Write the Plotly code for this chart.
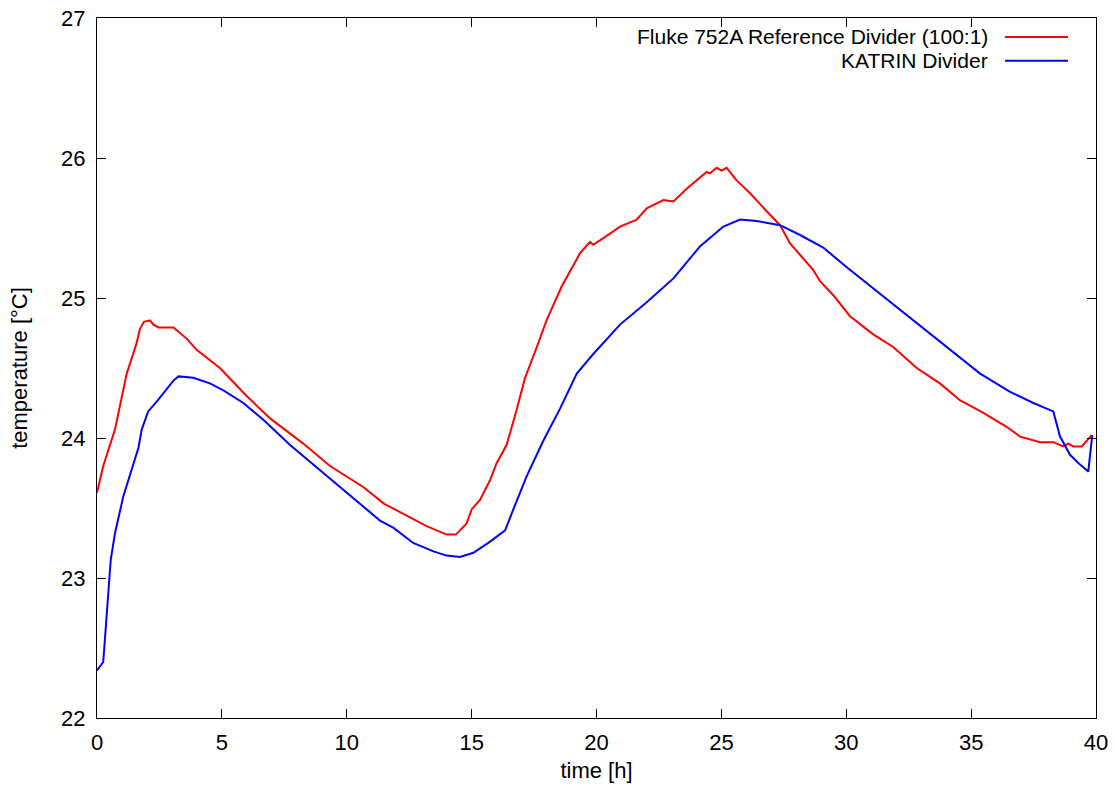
import plotly.graph_objects as go

# time [h] / temperature [°C]
fluke_time = [0, 0.25, 0.72, 1.19, 1.39, 1.59, 1.72, 1.88, 2.12, 2.26, 2.46, 3.06, 3.59, 3.99,
              4.92, 5.99, 6.93, 8.26, 9.33, 10.66, 11.5, 12.53, 13.20, 14.0, 14.37, 14.80, 15.0,
              15.34, 15.74, 16.0, 16.40, 16.80, 17.14, 17.61, 18.0, 18.6, 19.34, 19.74, 19.87,
              20.54, 20.94, 21.61, 22.01, 22.68, 23.08, 23.61, 24.28, 24.41, 24.54, 24.81, 25.01,
              25.21, 25.61, 26.14, 26.81, 27.35, 27.75, 28.15, 28.68, 28.95, 29.48, 30.15, 31.08,
              31.88, 32.82, 33.75, 34.55, 35.49, 36.42, 36.96, 37.76, 38.29, 38.69, 38.89, 39.09,
              39.43, 39.83]
fluke_temp = [23.61, 23.80, 24.06, 24.46, 24.57, 24.68, 24.78, 24.83, 24.84, 24.81, 24.79, 24.79,
              24.71, 24.63, 24.50, 24.30, 24.14, 23.96, 23.80, 23.65, 23.53, 23.43, 23.37, 23.31,
              23.31, 23.39, 23.49, 23.56, 23.70, 23.82, 23.95, 24.20, 24.43, 24.65, 24.84, 25.08,
              25.32, 25.40, 25.38, 25.46, 25.51, 25.56, 25.64, 25.70, 25.69, 25.78, 25.88, 25.90,
              25.89, 25.93, 25.91, 25.93, 25.84, 25.75, 25.62, 25.52, 25.39, 25.31, 25.20, 25.12,
              25.02, 24.87, 24.74, 24.65, 24.50, 24.39, 24.27, 24.18, 24.08, 24.01, 23.97, 23.97,
              23.94, 23.96, 23.94, 23.94, 24.02]

katrin_time = [0, 0.25, 0.55, 0.72, 1.05, 1.39, 1.66, 1.79, 2.05, 2.39, 3.06, 3.26, 3.86, 4.52,
               5.06, 5.86, 6.66, 7.73, 9.06, 10.40, 11.33, 11.86, 12.66, 13.47, 14.0, 14.53, 15.07,
               15.74, 16.34, 16.67, 17.21, 17.87, 18.54, 19.21, 19.87, 20.94, 22.01, 23.08, 24.15,
               25.08, 25.75, 26.41, 27.35, 28.15, 29.08, 30.02, 31.35, 32.68, 34.02, 35.36, 36.56,
               37.49, 38.29, 38.56, 38.96, 39.36, 39.69, 39.85]
katrin_temp = [22.34, 22.40, 23.13, 23.32, 23.58, 23.78, 23.93, 24.06, 24.19, 24.26, 24.41, 24.44,
               24.43, 24.39, 24.34, 24.25, 24.13, 23.95, 23.75, 23.55, 23.41, 23.36, 23.25, 23.19,
               23.16, 23.15, 23.18, 23.26, 23.34, 23.49, 23.73, 23.98, 24.21, 24.46, 24.60, 24.81,
               24.97, 25.14, 25.37, 25.51, 25.56, 25.55, 25.52, 25.45, 25.36, 25.22, 25.03, 24.84,
               24.65, 24.46, 24.33, 24.25, 24.19, 24.01, 23.88, 23.81, 23.76, 24.02]

series = [
    ("Fluke 752A Reference Divider (100:1)", fluke_time, fluke_temp, "#ff0000"),
    ("KATRIN Divider", katrin_time, katrin_temp, "#0000ff"),
]

FONT = "Liberation Sans, Arial, sans-serif"
FSIZE = 22

fig = go.Figure()
for name, t, temp, color in series:
    fig.add_trace(go.Scatter(x=t, y=temp, mode="lines", name=name,
                             line=dict(color=color, width=2)))

# gnuplot style key: text right-aligned, line sample on the right
key_y = [0.973, 0.939]
for (name, t, temp, color), ky in zip(series, key_y):
    fig.add_annotation(x=0.894, y=ky, xref="paper", yref="paper", text=name,
                       showarrow=False, xanchor="right", yanchor="middle",
                       font=dict(family=FONT, size=21, color="black"))
    fig.add_shape(type="line", xref="paper", yref="paper", x0=0.909, x1=0.972,
                  y0=ky, y1=ky, line=dict(color=color, width=2))

axis_style = dict(showline=True, linecolor="black", linewidth=1, mirror="allticks",
                  ticks="inside", ticklen=9, tickwidth=1, tickcolor="black",
                  showgrid=False, zeroline=False, automargin=False,
                  tickfont=dict(family=FONT, size=FSIZE, color="black"))

fig.update_xaxes(range=[0, 40], dtick=5, title=dict(text="time [h]", standoff=8,
                 font=dict(family=FONT, size=FSIZE, color="black")),
                 ticklabelstandoff=5, **axis_style)
fig.update_yaxes(range=[22, 27], dtick=1, title=dict(text="temperature [°C]", standoff=27,
                 font=dict(family=FONT, size=FSIZE, color="black")),
                 ticklabelstandoff=6, **axis_style)

fig.update_layout(width=1114, height=787, showlegend=False,
                  plot_bgcolor="white", paper_bgcolor="white",
                  margin=dict(l=97, r=18, t=18, b=69),
                  font=dict(family=FONT, size=FSIZE, color="black"))

# drop the default body margin so the figure sits at the page corner
fig.write_html("out.html", config={"displayModeBar": False},
               post_script="document.body.style.margin='0';")
